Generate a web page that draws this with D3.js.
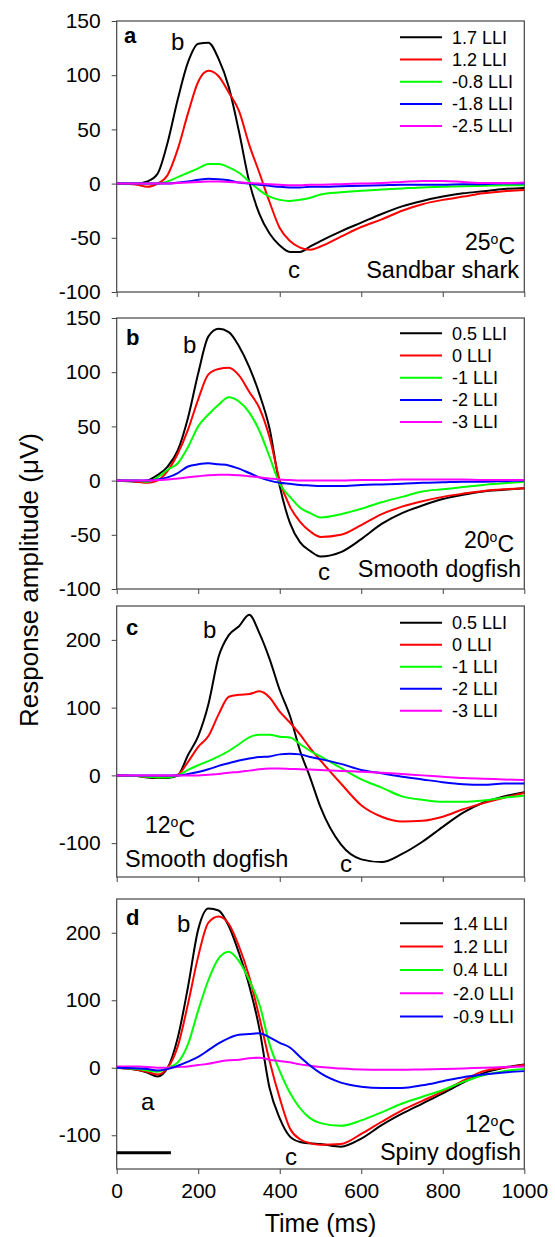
<!DOCTYPE html>
<html lang="en">
<head>
<meta charset="UTF-8">
<title>ERG responses</title>
<script src="https://d3js.org/d3.v7.min.js"></script>
<style>
    body { margin: 0; background: #fff; }
    text { font-family: "Liberation Sans", Arial, sans-serif; fill: #000; }
</style>
</head>
<body>
<div id="chart"></div>
<script>
    var width = 555;
    var height = 1237;

    // shared time grid (ms)
    var timeMs = [0, 50, 75, 100, 125, 150, 175, 200, 225, 250, 275, 300, 325, 350, 375, 400,
        425, 450, 475, 500, 550, 600, 650, 700, 750, 800, 850, 900, 950, 1000];

    // panel a - Sandbar shark, 25oC
    var aLabels = ["1.7 LLI", "1.2 LLI", "-0.8 LLI", "-1.8 LLI", "-2.5 LLI"];
    var aBlack = [0, 0, 2, 9, 38, 78, 112, 129, 130, 115, 89, 48, 2, -28, -46, -57, -63, -63, -58, -53, -44, -36, -28, -21, -16, -12, -9, -7, -5, -4];
    var aRed = [0, -1, -3, 0, 8, 32, 65, 94, 104, 99, 84, 67, 36, 10, -17, -41, -53, -59, -61, -58, -49, -40, -33, -25, -19, -15, -12, -9, -7, -6];
    var aGreen = [0, 0, 0, 0, 2, 6, 10, 14, 18, 18, 15, 10, 2, -6, -12, -15, -16, -15, -13, -10, -8, -6.5, -5.5, -4.5, -3.5, -3, -2.5, -2, -1.5, -1.5];
    var aBlue = [0, 0, 0, 0, 0, 1, 2, 3.5, 4.5, 4, 3, 1, 0, -1, -2, -3, -3.5, -3.5, -3, -3, -2.5, -2, -1.5, -1, -1, -1, -0.5, -0.5, 0, 0];
    var aMagenta = [0, 0, 0, 0, 0, 0.5, 1, 1.5, 2, 2, 1.5, 1, 0.5, 0, -0.5, -1, -1.5, -1.5, -1, -1, -0.5, 0, 0.5, 1.5, 2.5, 2.5, 1.5, 0.5, 0.5, 1];

    // panel b - Smooth dogfish, 20oC
    var bLabels = ["0.5 LLI", "0 LLI", "-1 LLI", "-2 LLI", "-3 LLI"];
    var bBlack = [0, -1, 0, 5, 13, 28, 58, 99, 133, 140, 137, 124, 105, 80, 48, -5, -39, -57, -65, -70, -66, -54, -40, -30, -23, -17, -13, -10, -8.5, -7];
    var bRed = [0, -1, -2, 0, 9, 25, 47, 75, 98, 103, 104, 97, 82, 67, 40, 0, -24, -38, -47, -52, -50, -41, -31, -24, -19, -15, -12, -9.5, -8, -7];
    var bGreen = [0, 0, -1, 3, 10, 16, 31, 50, 61, 70, 77, 73, 63, 46, 22, -3, -15, -25, -30, -34, -31, -26, -20, -15, -10, -8, -6, -4, -2.5, -1];
    var bBlue = [0, 0, 0, 1, 3, 7, 13, 15, 16, 15, 14, 11, 7, 3, 0, -2, -3, -4, -4.5, -5, -5, -4, -3.5, -3, -2, -1.5, -1, -1, -0.5, 0];
    var bMagenta = [0, 0, 0, 0.5, 1, 2, 3, 4, 5, 5.5, 5.5, 5, 4, 3, 2, 1, 0.5, 0, 0, 0, 0, 0.5, 0.5, 1, 1, 1, 1, 0.5, 0.5, 0.5];

    // panel c - Smooth dogfish, 12oC
    var cLabels = ["0.5 LLI", "0 LLI", "-1 LLI", "-2 LLI", "-3 LLI"];
    var cBlack = [0, -1, -3, -4, -4, 0, 30, 58, 105, 175, 207, 220, 237, 210, 172, 126, 88, 36, -4, -47, -102, -124, -128, -116, -98, -76, -55, -40, -31, -25];
    var cRed = [0, -1, -2, -3, -2, 1, 20, 42, 58, 90, 116, 119, 120, 124, 115, 94, 78, 60, 40, 22, -12, -44, -61, -68, -67, -61, -50, -41, -33, -26];
    var cGreen = [0, -1, -2, -3, -3, 0, 8, 15, 21, 28, 36, 46, 56, 60, 60, 57, 56, 46, 36, 28, 11, -6, -18, -31, -36, -39, -39, -37, -33, -30];
    var cBlue = [0, 0, 0, 0, 0, 0, 2, 5, 9, 14, 18, 22, 25, 27, 28, 31, 32, 31, 27, 24, 17, 8, 3, -2, -6, -10, -13, -14, -12, -12];
    var cMagenta = [0, 0, 0, 0, 0, 0, 0, 0, 1, 2, 4, 5, 7, 9, 10, 10, 9.5, 9, 8.5, 8, 6.5, 5.5, 4, 2, 0, -2, -4, -5, -6, -7];

    // panel d - Spiny dogfish, 12oC
    var dLabels = ["1.4 LLI", "1.2 LLI", "0.4 LLI", "-2.0 LLI", "-0.9 LLI"];
    var dBlack = [0, -3, -7, -13, 0, 45, 120, 205, 236, 233, 210, 170, 122, 58, -30, -75, -102, -110, -112, -113, -117, -105, -85, -68, -53, -38, -22, -8, 0, 5];
    var dRed = [0, -3, -6, -10, 0, 32, 95, 165, 215, 224, 213, 180, 135, 75, 10, -45, -90, -106, -112, -114, -113, -98, -80, -63, -49, -35, -19, -5, 0, 4];
    var dGreen = [0, -2, -4, -6, 0, 8, 35, 85, 130, 162, 172, 158, 130, 94, 35, -5, -37, -60, -75, -82, -86, -78, -66, -53, -43, -33, -21, -11, -5, -2];
    var dMagenta = [2, 2, 1, 0, 0, 1, 2, 4, 6, 9, 11, 12, 14, 15, 12, 10, 8, 5, 3, 1, -1, -2.5, -3, -3, -2.5, -2, -1, 0, 1, 2];
    var dBlue = [0, -1, -2, -4, -2, 3, 9, 16, 26, 36, 44, 49, 50, 51, 45, 37, 30, 16, 3, -8, -22, -28, -30, -30, -26, -20, -14, -10, -7, -5];

    // stimulus bar in panel d (ms)
    var stimulusMs = [0, 133];
    var stimulusLevel = -126;

    var xTicks = [0, 200, 400, 600, 800, 1000];

    var panels = [
        { letter: "a", domain: [-100, 150], ticks: [-100, -50, 0, 50, 100, 150], top: 21, bottom: 292,
          labels: aLabels, colors: ["#000000", "#ff0000", "#00ff00", "#0000ff", "#ff00ff"],
          values: [aBlack, aRed, aGreen, aBlue, aMagenta], legTop: 16.3, legStep: 22.2,
          temp: "25", species: "Sandbar shark" },
        { letter: "b", domain: [-100, 150], ticks: [-100, -50, 0, 50, 100, 150], top: 318, bottom: 589,
          labels: bLabels, colors: ["#000000", "#ff0000", "#00ff00", "#0000ff", "#ff00ff"],
          values: [bBlack, bRed, bGreen, bBlue, bMagenta], legTop: 15.3, legStep: 22.2,
          temp: "20", species: "Smooth dogfish" },
        { letter: "c", domain: [-150, 250], ticks: [-100, 0, 100, 200], top: 606, bottom: 877,
          labels: cLabels, colors: ["#000000", "#ff0000", "#00ff00", "#0000ff", "#ff00ff"],
          values: [cBlack, cRed, cGreen, cBlue, cMagenta], legTop: 16.7, legStep: 22,
          temp: "12", species: "Smooth dogfish" },
        { letter: "d", domain: [-150, 250], ticks: [-100, 0, 100, 200], top: 899, bottom: 1169,
          labels: dLabels, colors: ["#000000", "#ff0000", "#00ff00", "#ff00ff", "#0000ff"],
          values: [dBlack, dRed, dGreen, dMagenta, dBlue], legTop: 24.3, legStep: 23.3,
          temp: "12", species: "Spiny dogfish" }
    ];

    var left = 116.7, right = 524.3;
    var axisColor = "#444";

    var svg = d3.select("#chart").append("svg")
        .attr("width", width)
        .attr("height", height);

    var x = d3.scaleLinear().domain([0, 1000]).range([left, right]);

    // annotation offsets, relative to panel top
    var notes = {
        a: { tag: [124, 22], b: [171, 29], c: [288, 257], temp: [[515, 229], "end"], sp: [[519, 257], "end"] },
        b: { tag: [126, 27], b: [183, 35], c: [318, 262], temp: [[514, 230], "end"], sp: [[521, 259], "end"] },
        c: { tag: [126, 29], b: [203, 32], c: [340, 266], temp: [[145, 227], "start"], sp: [[125, 261], "start"] },
        d: { tag: [126, 26], b: [177, 33], c: [285, 266], temp: [[515, 233], "end"], sp: [[521, 261], "end"] }
    };

    panels.forEach(function (p, pi) {
        var y = d3.scaleLinear().domain(p.domain).range([p.bottom, p.top]);
        var g = svg.append("g");

        // frame
        g.append("rect")
            .attr("x", left).attr("y", p.top)
            .attr("width", right - left).attr("height", p.bottom - p.top)
            .attr("fill", "none").attr("stroke", axisColor).attr("stroke-width", 1.2);

        var yAxis = g.append("g")
            .attr("transform", "translate(" + left + ",0)")
            .call(d3.axisLeft(y).tickValues(p.ticks).tickSize(5).tickPadding(11)
                .tickFormat(function (d) { return String(d); }));
        yAxis.select(".domain").remove();
        yAxis.selectAll("line").attr("stroke", axisColor);
        yAxis.selectAll("text").style("font-size", "21px").style("font-family", "Liberation Sans, Arial, sans-serif")
            .attr("fill", "#000");

        var xAxis = g.append("g")
            .attr("transform", "translate(0," + p.bottom + ")")
            .call(d3.axisBottom(x).tickValues(xTicks).tickSize(5).tickPadding(9)
                .tickFormat(function (d) { return String(d); }));
        xAxis.select(".domain").remove();
        xAxis.selectAll("line").attr("stroke", axisColor);
        xAxis.selectAll("text").style("font-size", "21px").style("font-family", "Liberation Sans, Arial, sans-serif")
            .attr("fill", "#000");
        if (pi < 3) xAxis.selectAll("text").remove();

        // traces
        var line = d3.line()
            .x(function (d, i) { return x(timeMs[i]); })
            .y(function (d) { return y(d); })
            .curve(d3.curveMonotoneX);

        g.append("g").selectAll("path")
            .data(p.values)
            .join("path")
            .attr("d", line)
            .attr("fill", "none")
            .attr("stroke", function (d, i) { return p.colors[i]; })
            .attr("stroke-width", 2);

        // legend
        var leg = g.append("g").selectAll("g")
            .data(p.labels)
            .join("g")
            .attr("transform", function (d, i) { return "translate(0," + (p.top + p.legTop + i * p.legStep) + ")"; });
        leg.append("line")
            .attr("x1", 400).attr("x2", pi === 3 ? 443 : 442)
            .attr("stroke", function (d, i) { return p.colors[i]; })
            .attr("stroke-width", 2);
        leg.append("text")
            .attr("x", pi === 3 ? 453 : 452)
            .attr("dy", "0.35em")
            .style("font-size", "18px")
            .text(function (d) { return d; });

        // annotations
        var n = notes[p.letter];
        g.append("text").attr("x", n.tag[0]).attr("y", p.top + n.tag[1])
            .style("font-size", "22px").style("font-weight", "bold").text(p.letter);
        g.append("text").attr("x", n.b[0]).attr("y", p.top + n.b[1])
            .style("font-size", "24px").text("b");
        g.append("text").attr("x", n.c[0]).attr("y", p.top + n.c[1])
            .style("font-size", "24px").text("c");

        var t = g.append("text").attr("x", n.temp[0][0]).attr("y", p.top + n.temp[0][1])
            .attr("text-anchor", n.temp[1]).style("font-size", "23px");
        t.append("tspan").text(p.temp);
        t.append("tspan").attr("dy", "-0.45em").style("font-size", "14px").text("o");
        t.append("tspan").attr("dy", "0.45em").text("C");

        g.append("text").attr("x", n.sp[0][0]).attr("y", p.top + n.sp[0][1])
            .attr("text-anchor", n.sp[1]).style("font-size", "23.5px").text(p.species);

        if (p.letter === "d") {
            g.append("text").attr("x", 141).attr("y", p.top + 211)
                .style("font-size", "24px").text("a");
            g.append("line")
                .attr("x1", x(stimulusMs[0])).attr("x2", x(stimulusMs[1]))
                .attr("y1", y(stimulusLevel)).attr("y2", y(stimulusLevel))
                .attr("stroke", "#000").attr("stroke-width", 3);
        }
    });

    // axis titles
    svg.append("text")
        .attr("transform", "translate(38,580) rotate(-90)")
        .attr("text-anchor", "middle")
        .style("font-size", "26px")
        .text("Response amplitude (\u03BCV)");

    svg.append("text")
        .attr("x", (left + right) / 2)
        .attr("y", 1232)
        .attr("text-anchor", "middle")
        .style("font-size", "25px")
        .text("Time (ms)");
</script>
</body>
</html>
